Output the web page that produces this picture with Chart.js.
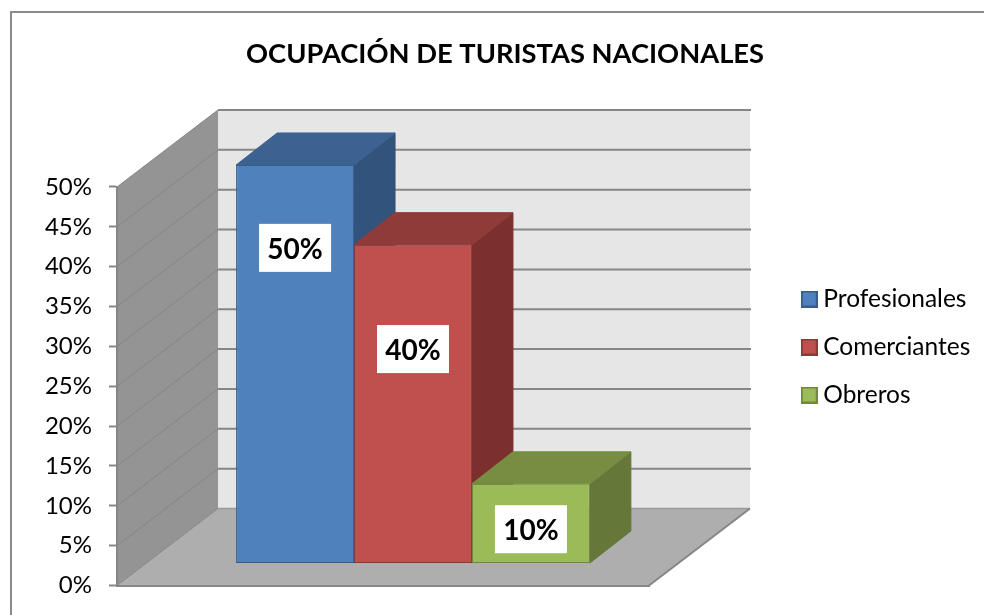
<!DOCTYPE html>
<html>
<head>
<meta charset="utf-8">
<style>html,body{margin:0;padding:0;background:#fff;overflow:hidden}canvas{display:block}</style>
<script src="https://cdn.jsdelivr.net/npm/chart.js@4/dist/chart.umd.min.js"></script>
</head>
<body>
<canvas id="c" width="984" height="615"></canvas>
<script>
const titleText = 'OCUPACIÓN DE TURISTAS NACIONALES';
const categories = ['Ocupación'];
const seriesNames = ['Profesionales', 'Comerciantes', 'Obreros'];
const profesionales = [0.5];
const comerciantes = [0.4];
const obreros = [0.1];
const valueLabels = ['50%', '40%', '10%'];
const labelLevels = [0.396, 0.269, 0.043];

const faceColors = ['#4f81bd', '#c0504d', '#9bbb59'];
const edgeColors = ['#385d8a', '#8c3836', '#71893f'];
const topColors = ['#3c6291', '#8f3b39', '#768d42'];
const sideColors = ['#32537c', '#7b302e', '#65783a'];
const FONT = 'Lato, sans-serif';
const GRAY = '#868686';
const WALL = {dx: 101, dy: -77};
const BAR_OFFSET = {dx: 30, dy: -22};
const BAR_DEPTH = {dx: 41, dy: -32};

function poly(ctx, pts, fill, stroke) {
  ctx.beginPath();
  pts.forEach((p, i) => i ? ctx.lineTo(p[0], p[1]) : ctx.moveTo(p[0], p[1]));
  ctx.closePath();
  ctx.fillStyle = fill;
  ctx.fill();
  if (stroke) { ctx.strokeStyle = stroke; ctx.lineWidth = 1; ctx.stroke(); }
}
function swatch(i) {
  const s = document.createElement('canvas');
  s.width = s.height = 17;
  const g = s.getContext('2d');
  g.fillStyle = faceColors[i];
  g.fillRect(0, 0, 17, 17);
  g.strokeStyle = edgeColors[i];
  g.lineWidth = 2;
  g.strokeRect(1, 1, 15, 15);
  return s;
}

const scene = {
  id: 'scene',
  afterLayout(chart) {
    const t = chart.titleBlock;
    t.left = 26; t.right = 984;
    const l = chart.legend;
    l.left = 784; l.top = 263.25; l.right = 984; l.bottom = 615;
    l.width = l.right - l.left; l.height = l.bottom - l.top;
  },
  beforeDraw(chart) {
    const ctx = chart.ctx, a = chart.chartArea, y = chart.scales.y;
    ctx.save();
    ctx.fillStyle = '#fff';
    ctx.fillRect(0, 0, chart.width, chart.height);
    // outer frame
    ctx.fillStyle = '#8a8a8a';
    ctx.fillRect(10, 11, 974, 2);
    ctx.fillRect(10, 11, 2, 604);
    const l = a.left, r = a.right, t = a.top, b = a.bottom, dx = WALL.dx, dy = WALL.dy;
    // back wall, left wall, floor
    poly(ctx, [[l + dx, t + dy], [r + dx, t + dy], [r + dx, b + dy], [l + dx, b + dy]], '#e6e6e6');
    poly(ctx, [[l, t], [l + dx, t + dy], [l + dx, b + dy], [l, b]], '#949494');
    poly(ctx, [[l, b], [r, b], [r + dx, b + dy], [l + dx, b + dy]], '#aeaeae');
    // gridlines carried over both walls
    y.ticks.forEach(tk => {
      const py = y.getPixelForValue(tk.value);
      if (tk.value > 0) {
        ctx.strokeStyle = GRAY; ctx.lineWidth = 2;
        ctx.beginPath(); ctx.moveTo(l + dx, py + dy); ctx.lineTo(r + dx + 1, py + dy); ctx.stroke();
      }
      ctx.strokeStyle = '#858585'; ctx.lineWidth = 1;
      ctx.beginPath(); ctx.moveTo(l, py); ctx.lineTo(l + dx, py + dy); ctx.stroke();
    });
    ctx.strokeStyle = '#9a9a9a'; ctx.lineWidth = 1.5;
    ctx.beginPath(); ctx.moveTo(l + dx, b + dy); ctx.lineTo(r + dx, b + dy); ctx.stroke();
    ctx.strokeStyle = GRAY; ctx.lineWidth = 2;
    ctx.beginPath(); ctx.moveTo(r, b); ctx.lineTo(r + dx, b + dy); ctx.stroke();
    ctx.restore();
  },
  beforeDatasetsDraw(chart) {
    const ctx = chart.ctx;
    ctx.save();
    ctx.translate(BAR_OFFSET.dx, BAR_OFFSET.dy);
    chart.data.datasets.forEach((d, i) => {
      const bar = chart.getDatasetMeta(i).data[0];
      const xl = bar.x - bar.width / 2, xr = bar.x + bar.width / 2, yt = bar.y, yb = bar.base;
      const ddx = BAR_DEPTH.dx, ddy = BAR_DEPTH.dy;
      poly(ctx, [[xr, yt], [xr + ddx, yt + ddy], [xr + ddx, yb + ddy], [xr, yb]], sideColors[i], sideColors[i]);
      poly(ctx, [[xl, yt], [xl + ddx, yt + ddy], [xr + ddx, yt + ddy], [xr, yt]], topColors[i], topColors[i]);
    });
  },
  afterDatasetsDraw(chart) {
    const ctx = chart.ctx, y = chart.scales.y;
    ctx.restore();
    ctx.save();
    ctx.font = 'bold 28px ' + FONT;
    ctx.textAlign = 'center';
    ctx.textBaseline = 'middle';
    chart.data.datasets.forEach((d, i) => {
      const bar = chart.getDatasetMeta(i).data[0];
      const cx = bar.x + BAR_OFFSET.dx;
      const cy = y.getPixelForValue(labelLevels[i]) + BAR_OFFSET.dy;
      ctx.fillStyle = '#fff';
      ctx.fillRect(cx - 36, cy - 24, 72, 48);
      ctx.fillStyle = '#000';
      ctx.fillText(valueLabels[i], cx, cy + 2);
    });
    ctx.restore();
  }
};

const seriesValues = [profesionales, comerciantes, obreros];
new Chart(document.getElementById('c'), {
  type: 'bar',
  plugins: [scene],
  data: {
    labels: categories,
    datasets: seriesNames.map((name, i) => ({
      label: name,
      data: seriesValues[i],
      backgroundColor: faceColors[i],
      borderColor: edgeColors[i],
      borderWidth: 1,
      borderSkipped: false,
      clip: false,
      categoryPercentage: 0.665,
      barPercentage: 1
    }))
  },
  options: {
    responsive: false,
    animation: false,
    devicePixelRatio: 1,
    layout: {padding: {left: 0, right: 335, top: 37.8, bottom: 29.5}},
    scales: {
      x: {
        afterFit(s) { s.height = 0; s.paddingLeft = s.paddingRight = 0; },
        ticks: {display: false},
        grid: {display: false},
        border: {color: GRAY, width: 2}
      },
      y: {
        min: 0, max: 0.5,
        afterFit(s) { s.width = 117; s.paddingTop = s.paddingBottom = 0; },
        ticks: {
          stepSize: 0.05,
          color: '#000',
          padding: 17,
          font: {family: FONT, size: 24},
          callback: v => Math.round(v * 100) + '%'
        },
        grid: {drawOnChartArea: false, drawTicks: true, tickLength: 8, tickColor: GRAY, tickWidth: 2},
        border: {color: GRAY, width: 2}
      }
    },
    plugins: {
      tooltip: {enabled: false},
      title: {
        display: true,
        text: titleText,
        color: '#000',
        font: {family: FONT, size: 27.3, weight: 'bold'},
        padding: {top: 0, bottom: 116.4}
      },
      legend: {
        position: 'chartArea',
        align: 'start',
        labels: {
          usePointStyle: true,
          boxWidth: 3.5,
          boxHeight: 3.5,
          padding: 23.5,
          color: '#000',
          font: {family: FONT, size: 24.5},
          generateLabels(chart) {
            return Chart.defaults.plugins.legend.labels.generateLabels(chart)
              .map((it) => Object.assign(it, {pointStyle: swatch(it.datasetIndex)}));
          }
        }
      }
    }
  }
});
</script>
</body>
</html>
